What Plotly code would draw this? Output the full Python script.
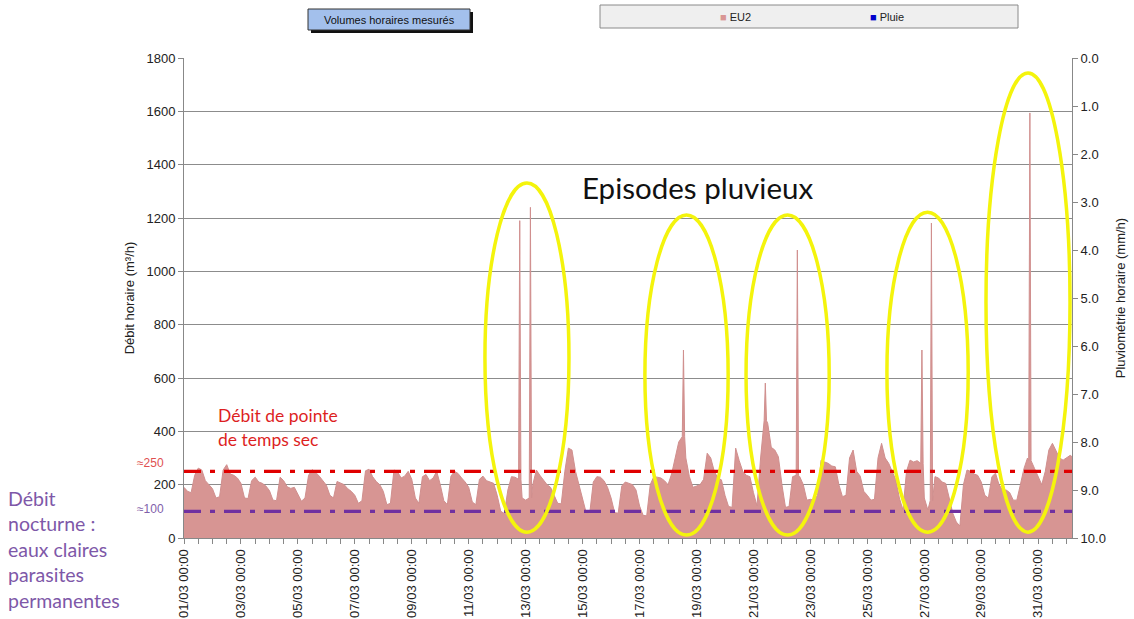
import pandas as pd
import plotly.graph_objects as go

# ---------------- data ----------------
month_start = "2013-03-01 00:00"
x_end = "2013-04-01 04:30"
hours_of_day = [0, 3, 6, 9, 12, 15, 18, 21]

# EU2 hourly volumes (m3/h), sampled every 3 hours, one row per day
eu2_by_day = [
    [190, 175, 170, 235, 262, 255, 215, 200],  # 01/03
    [185, 150, 155, 255, 275, 240, 235, 225],  # 02/03
    [205, 150, 148, 215, 228, 210, 205, 195],  # 03/03
    [178, 142, 140, 228, 215, 192, 186, 190],  # 04/03
    [165, 138, 150, 235, 256, 246, 232, 215],  # 05/03
    [198, 160, 150, 212, 205, 200, 185, 175],  # 06/03
    [160, 130, 140, 252, 258, 230, 212, 200],  # 07/03
    [175, 125, 130, 255, 248, 225, 232, 250],  # 08/03
    [220, 150, 130, 230, 238, 215, 225, 250],  # 09/03
    [200, 140, 125, 232, 250, 242, 225, 210],  # 10/03
    [190, 135, 125, 220, 232, 215, 210, 205],  # 11/03
    [160, 100, 92, 180, 230, 228, 210, 150],   # 12/03
    [142, 150, 200, 255, 235, 215, 200, 190],  # 13/03
    [160, 130, 128, 250, 337, 330, 250, 200],  # 14/03
    [150, 95, 93, 210, 230, 228, 215, 190],    # 15/03
    [150, 95, 93, 195, 210, 205, 200, 180],    # 16/03
    [120, 85, 83, 200, 230, 228, 225, 215],    # 17/03
    [200, 240, 300, 360, 393, 300, 230, 190],  # 18/03
    [195, 200, 220, 318, 300, 250, 225, 218],  # 19/03
    [160, 118, 115, 337, 290, 250, 235, 230],  # 20/03
    [170, 120, 300, 450, 430, 340, 330, 305],  # 21/03
    [200, 115, 118, 230, 235, 230, 200, 142],  # 22/03
    [145, 142, 160, 292, 285, 280, 270, 267],  # 23/03
    [200, 155, 160, 300, 330, 250, 232, 175],  # 24/03
    [160, 142, 145, 300, 355, 300, 280, 250],  # 25/03
    [218, 150, 105, 250, 292, 285, 290, 260],  # 26/03
    [150, 105, 140, 230, 225, 210, 205, 150],  # 27/03
    [93, 60, 45, 200, 255, 250, 240, 235],     # 28/03
    [210, 160, 150, 230, 243, 200, 180, 180],  # 29/03
    [170, 142, 142, 200, 260, 300, 300, 260],  # 30/03
    [230, 200, 250, 330, 355, 330, 300, 292],  # 31/03
]
eu2_tail_times = ["2013-04-01 00:00", "2013-04-01 03:00", "2013-04-01 04:30"]
eu2_tail_values = [300, 310, 305]

# one-hour storm peaks and the level just around them
spike_times = ["2013-03-12 19:00", "2013-03-13 04:00", "2013-03-18 13:00",
               "2013-03-21 10:00", "2013-03-22 13:00", "2013-03-26 22:00",
               "2013-03-27 06:00", "2013-03-30 17:00"]
spike_peaks = [1190, 1240, 705, 581, 1080, 705, 1181, 1594]
spike_shoulders = [220, 150, 380, 440, 235, 280, 140, 290]

# rainfall (mm/h) - no visible bars in the picture
pluie_times = []
pluie_values = []

# reference levels
dry_peak_level = 250
night_base_level = 100

# rain episodes highlighted (time span, flow span)
episode_t0 = ["2013-03-11 13:40", "2013-03-17 04:30", "2013-03-20 17:45", "2013-03-25 16:30", "2013-03-29 04:00"]
episode_t1 = ["2013-03-14 12:30", "2013-03-20 02:40", "2013-03-23 15:50", "2013-03-28 13:00", "2013-04-01 02:50"]
episode_v0 = [22, 11, 11, 22, 22]
episode_v1 = [1331, 1211, 1211, 1222, 1744]

# ---------------- build series ----------------
t0 = pd.Timestamp(month_start)
pts = {}
for d, vals in enumerate(eu2_by_day):
    for h, v in zip(hours_of_day, vals):
        pts[t0 + pd.Timedelta(days=d, hours=h)] = v
for t, v in zip(eu2_tail_times, eu2_tail_values):
    pts[pd.Timestamp(t)] = v
for t, p, s in zip(spike_times, spike_peaks, spike_shoulders):
    t = pd.Timestamp(t)
    pts[t - pd.Timedelta(hours=1)] = s
    pts[t + pd.Timedelta(hours=1)] = s
    pts[t] = p
times = sorted(pts)
vals = [pts[t] for t in times]

fig = go.Figure()
fig.add_trace(go.Scatter(
    x=times, y=vals, name="EU2", mode="lines", fill="tozeroy",
    line=dict(color="#D08F8E", width=1), fillcolor="#D79593",
))
fig.add_trace(go.Scatter(x=pluie_times, y=pluie_values, name="Pluie",
                         yaxis="y2", mode="lines", line=dict(color="#0000CC")))

L, R, T, B = 184, 62, 58, 81
W, H = 1134, 619
PW, PH = W - L - R, H - T - B


def px(x):
    return (x - L) / PW


def py(y):
    return (H - B - y) / PH


CAL = "Lato, Calibri, sans-serif"
ARIAL = "Liberation Sans, Arial, sans-serif"

shapes = []
for lvl, col in [(dry_peak_level, "#E00000"), (night_base_level, "#7030A0")]:
    shapes.append(dict(type="line", xref="paper", yref="y", x0=0, x1=1, y0=lvl, y1=lvl,
                       line=dict(color=col, width=3.2, dash="17px,9px,5px,9px"), layer="above"))
for a, b, c, d in zip(episode_t0, episode_t1, episode_v0, episode_v1):
    shapes.append(dict(type="circle", xref="x", yref="y", x0=a, x1=b, y0=c, y1=d,
                       line=dict(color="#F4F40C", width=3.5), layer="above"))
# header button with shadow
shapes.append(dict(type="rect", xref="paper", yref="paper", x0=px(311), x1=px(473), y0=py(33), y1=py(12),
                   fillcolor="#111", line=dict(width=0)))
shapes.append(dict(type="rect", xref="paper", yref="paper", x0=px(308), x1=px(470), y0=py(30), y1=py(9),
                   fillcolor="#A3C0EC", line=dict(color="#333", width=1)))
# legend box
shapes.append(dict(type="rect", xref="paper", yref="paper", x0=px(600), x1=px(1018), y0=py(28), y1=py(5),
                   fillcolor="#EFEFEF", line=dict(color="#8A8A8A", width=1)))

ann = []


def add(text, x, y, size, color, family=CAL, xanchor="left"):
    ann.append(dict(text=text, xref="paper", yref="paper", x=px(x), y=py(y), showarrow=False,
                    xanchor=xanchor, yanchor="middle", font=dict(size=size, color=color, family=family)))


add("Volumes horaires mesurés", 389, 20, 11, "#111", ARIAL, "center")
add("<span style='color:#D99694'>■</span> EU2", 735, 17, 11, "#222", ARIAL, "center")
add("<span style='color:#0000CC'>■</span> Pluie", 887, 17, 11, "#222", ARIAL, "center")
add("Episodes pluvieux", 697, 187, 29.5, "#111", CAL, "center")
add("Débit de pointe", 216, 415, 17.5, "#DD1F1F")
add("de temps sec", 216, 439, 17.5, "#DD1F1F")
add("≈250", 166, 463, 12, "#E05050", ARIAL, "right")
add("≈100", 166, 509, 12, "#7F60AA", ARIAL, "right")
for i, line in enumerate(["Débit", "nocturne :", "eaux claires", "parasites", "permanentes"]):
    add(line, 6, 498 + i * 25.5, 19.5, "#7E58A8")

axis_common = dict(ticks="outside", ticklen=5, tickcolor="#888", showline=True, linecolor="#888",
                   zeroline=False, automargin=False,
                   tickfont=dict(family=ARIAL, size=13, color="#222"))

fig.update_layout(
    width=W, height=H, margin=dict(l=L, r=R, t=T, b=B, autoexpand=False),
    paper_bgcolor="white", plot_bgcolor="white", showlegend=False,
    font=dict(family=ARIAL, size=13, color="#222"),
    xaxis=dict(type="date", range=[month_start, x_end], tickformat="%d/%m %H:%M", tickangle=-90,
               tick0=month_start, dtick=2 * 86400000, showgrid=False,
               minor=dict(dtick=43200000, ticks="outside", ticklen=5, tickcolor="#888", showgrid=False),
               **axis_common),
    yaxis=dict(range=[0, 1800], tick0=0, dtick=200, showgrid=True, gridcolor="#8C8C8C", gridwidth=1,
               title=dict(text="Débit horaire (m³/h)", standoff=8, font=dict(family=ARIAL, size=13)),
               **axis_common),
    yaxis2=dict(overlaying="y", side="right", range=[10, 0], tick0=0, dtick=1, tickformat=".1f",
                showgrid=False,
                title=dict(text="Pluviométrie horaire (mm/h)", standoff=10, font=dict(family=ARIAL, size=13)),
                **axis_common),
    shapes=shapes, annotations=ann,
)

fig.write_html("out.html", config={"displayModeBar": False},
               post_script="document.body.style.margin='0';document.body.style.overflow='hidden';")
